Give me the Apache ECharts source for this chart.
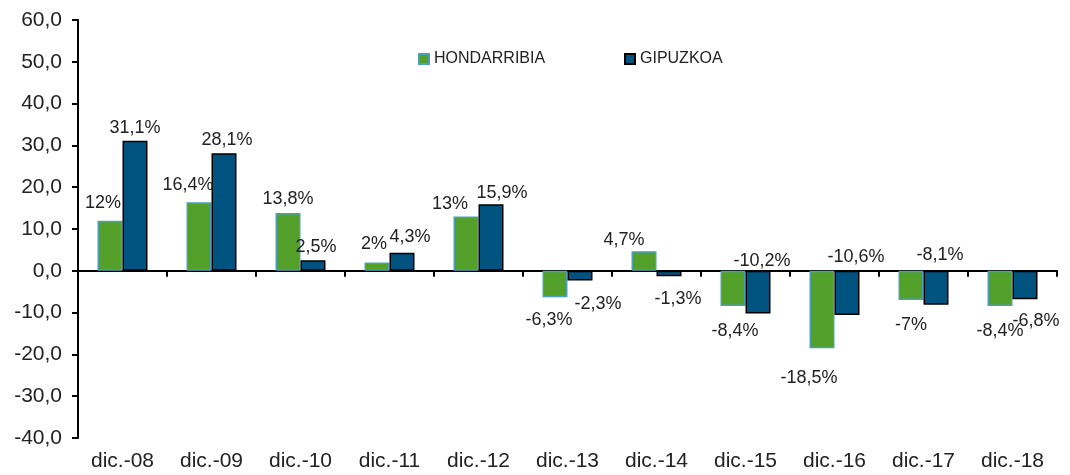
<!DOCTYPE html>
<html>
<head>
<meta charset="utf-8">
<script src="https://cdn.jsdelivr.net/npm/echarts@6/dist/echarts.min.js"></script>
<style>
html,body{margin:0;padding:0;background:#fff;}
#chart{width:1070px;height:475px;}
</style>
</head>
<body>
<div id="chart"></div>
<script>
var cats=['dic.-08','dic.-09','dic.-10','dic.-11','dic.-12','dic.-13','dic.-14','dic.-15','dic.-16','dic.-17','dic.-18'];
var hondarribia=[12,16.4,13.8,2,13,-6.3,4.7,-8.4,-18.5,-7,-8.4];
var gipuzkoa=[31.1,28.1,2.5,4.3,15.9,-2.3,-1.3,-10.2,-10.6,-8.1,-6.8];
var yTicks=[-40,60,10];

// label placement as in the original (hand-placed in the source)
var hLabelPos=[['top',-7,-4],['top',-11,-3],['top',0,0],['top',-3,-4],['top',-16,2],['bottom',-6,9],['top',-20,3],['bottom',2,11],['bottom',-13,16],['bottom',0,11],['bottom',0,11]];
var gLabelPos=[['top',0,1],['top',3,1],['top',3,1],['top',8,-2],['top',11,3],['bottom',18,10],['bottom',9,9],['top',4,4],['top',9,0],['top',4,-2],['bottom',11,8]];

var font='"Liberation Sans", Arial, sans-serif';

function pct(v){
    return String(v).replace('.',',')+'%';
}

function build(vals,pos){
    var out=[];
    for(var i=0;i<vals.length;i++){
        out.push({
            value:vals[i],
            label:{position:pos[i][0],offset:[pos[i][1],pos[i][2]]}
        });
    }
    return out;
}

var chart=echarts.init(document.getElementById('chart'));
var option={
    animation:false,
    textStyle:{fontFamily:font},
    grid:{left:78,right:13,top:20,bottom:37,containLabel:false},
    legend:[
        {
            left:413,top:46,
            itemWidth:10,itemHeight:10,
            data:[{name:'HONDARRIBIA',icon:'rect'}],
            textStyle:{fontSize:16,color:'#222',fontFamily:font}
        },
        {
            left:619,top:46,
            itemWidth:10,itemHeight:10,
            data:[{name:'GIPUZKOA',icon:'rect'}],
            textStyle:{fontSize:16,color:'#222',fontFamily:font}
        }
    ],
    xAxis:[
        {
            type:'category',
            data:cats,
            position:'bottom',
            axisLine:{show:false,onZero:false},
            axisTick:{show:false},
            axisLabel:{fontSize:21,color:'#222',margin:13,interval:0}
        },
        {
            type:'category',
            data:cats,
            position:'bottom',
            axisLine:{show:true,onZero:true,lineStyle:{color:'#000',width:2}},
            axisTick:{show:true,length:6,lineStyle:{color:'#000',width:2}},
            axisLabel:{show:false}
        }
    ],
    yAxis:{
        type:'value',
        min:yTicks[0],max:yTicks[1],interval:yTicks[2],
        axisLine:{show:true,lineStyle:{color:'#000',width:2}},
        axisTick:{show:true,length:6,lineStyle:{color:'#000',width:2}},
        splitLine:{show:false},
        axisLabel:{
            fontSize:21,color:'#222',margin:16,
            formatter:function(v){return v.toFixed(1).replace('.',',');}
        }
    },
    series:[
        {
            name:'HONDARRIBIA',
            type:'bar',
            xAxisIndex:0,
            barWidth:25,
            barGap:'0%',
            itemStyle:{color:'#52a02a',borderColor:'#4b9fb8',borderWidth:1.5},
            label:{show:true,fontSize:18,color:'#222',formatter:function(p){return pct(p.value);}},
            data:build(hondarribia,hLabelPos)
        },
        {
            name:'GIPUZKOA',
            type:'bar',
            xAxisIndex:0,
            barWidth:25,
            barGap:'0%',
            itemStyle:{color:'#00527f',borderColor:'#000',borderWidth:1.5},
            label:{show:true,fontSize:18,color:'#222',formatter:function(p){return pct(p.value);}},
            data:build(gipuzkoa,gLabelPos)
        }
    ]
};
chart.setOption(option);
window.onresize=chart.resize;
</script>
</body>
</html>
